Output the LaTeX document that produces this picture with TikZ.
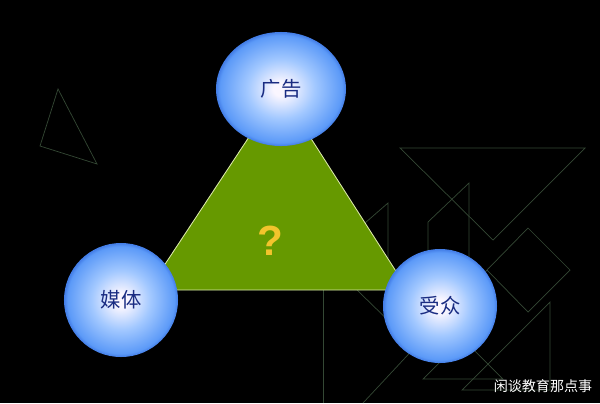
\documentclass[tikz,border=0pt]{standalone}
\usepackage{fontspec}
\newfontfamily\cjk{Noto Sans CJK SC}
\newfontfamily\qfont{Liberation Sans}
\usetikzlibrary{shapes.geometric}

\definecolor{tanline}{RGB}{52,72,52}
\definecolor{trigreen}{RGB}{102,153,0}
\definecolor{triedge}{RGB}{220,235,170}
\definecolor{labelblue}{RGB}{26,44,130}
\definecolor{qyellow}{RGB}{242,196,44}
\definecolor{ballin}{RGB}{250,246,255}
\definecolor{ballmid}{RGB}{162,200,255}
\definecolor{ballout}{RGB}{92,154,248}
\definecolor{ballrim}{RGB}{66,124,230}
\pgfdeclareradialshading{ballshade}{\pgfpoint{0bp}{0bp}}{color(0bp)=(ballin); color(3bp)=(ballin); color(13bp)=(ballmid); color(23.5bp)=(ballout); color(25bp)=(ballrim); color(50bp)=(ballrim)}

\begin{document}
\begin{tikzpicture}[x=0.025cm, y=-0.025cm,
  tanpiece/.style={draw=tanline, line width=0.5pt},
  ball/.style={ellipse, shading=ballshade, inner sep=0pt, minimum width=2.85cm, minimum height=2.85cm,
    font=\cjk\fontsize{14.5}{16}\selectfont, text=labelblue}]
\fill[black] (0,0) rectangle (600,403);
\useasboundingbox (0,0) rectangle (600,403);

% background pieces
\draw[tanpiece] (58,89) -- (40,146) -- (97,164) -- cycle;
\draw[tanpiece] (400,148) -- (585,148) -- (493,240) -- cycle;
\draw[tanpiece] (428,280) -- (428,222) -- (469,183) -- (469,280);
\draw[tanpiece] (350,236) -- (388,203) -- (388,290);
\draw[tanpiece] (528,228) -- (570,270) -- (528,312) -- (487,270) -- cycle;
\draw[tanpiece] (363,403) -- (487,270);
\draw[tanpiece] (323,290) -- (323,403);
\draw[tanpiece] (357,290) -- (395,327);
\draw[tanpiece] (423,379) -- (503,379) -- (463,339) -- cycle;
\draw[tanpiece] (462,390) -- (550,390) -- (550,302) -- cycle;

% middle triangle
\coordinate (apex) at (280,90);
\coordinate (baseleft) at (148,290);
\coordinate (baseright) at (408,290);
\filldraw[fill=trigreen, draw=triedge, line width=0.6pt] (apex) -- (baseleft) -- (baseright) -- cycle;
\node (qmark) at (270,241) [text=qyellow, font=\qfont\bfseries\fontsize{30}{34}\selectfont] {?};

% the three balls
\node (ad) at (281,89) [ball, minimum width=3.25cm] {广告};
\node (media) at (121,300) [ball] {媒体};
\node (audience) at (440,306) [ball] {受众};

\node (wmark) at (543,386) [text=white, font=\cjk\fontsize{10}{12}\selectfont] {闲谈教育那点事};
\end{tikzpicture}
\end{document}
